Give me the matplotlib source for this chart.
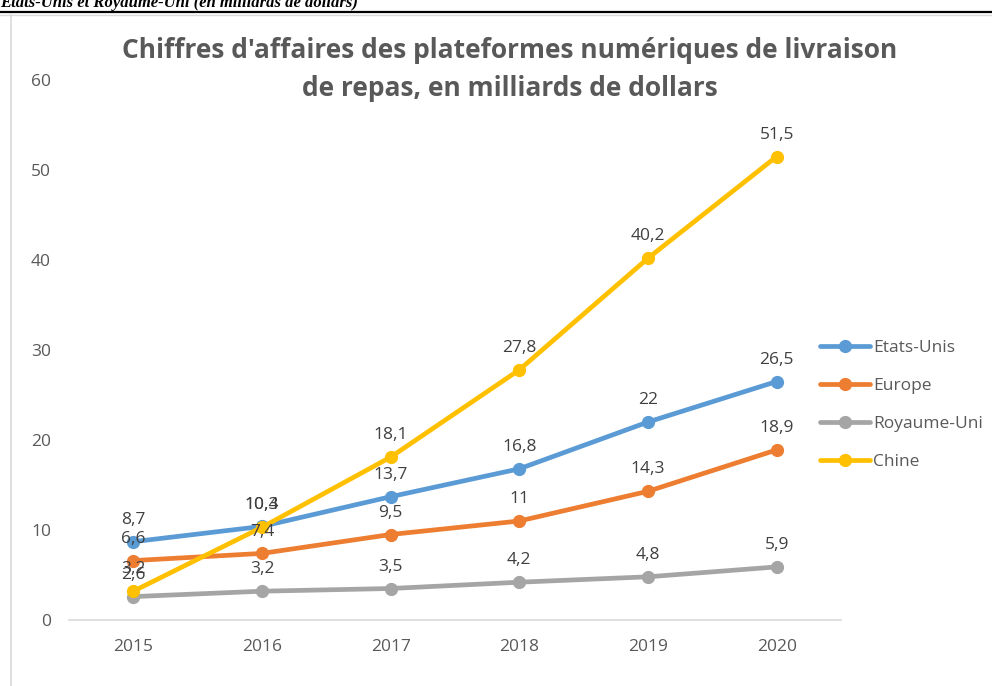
import numpy as np
import matplotlib
matplotlib.use("Agg")
import matplotlib.pyplot as plt
from matplotlib.lines import Line2D

years = ["2015", "2016", "2017", "2018", "2019", "2020"]
etats_unis = [8.7, 10.4, 13.7, 16.8, 22, 26.5]
europe = [6.6, 7.4, 9.5, 11, 14.3, 18.9]
royaume_uni = [2.6, 3.2, 3.5, 4.2, 4.8, 5.9]
chine = [3.2, 10.3, 18.1, 27.8, 40.2, 51.5]

series_names = ["Etats-Unis", "Europe", "Royaume-Uni", "Chine"]
colors = ["#5B9BD5", "#ED7D31", "#A5A5A5", "#FFC000"]

plt.rcParams['font.family'] = ['Open Sans', 'DejaVu Sans']
txt = "#595959"

fig = plt.figure(figsize=(9.92, 6.86), dpi=100)
fig.patch.set_facecolor("white")

# cropped caption at top of page
fig.text(0.0, 1 - 7 / 686, "Etats-Unis et Royaume-Uni (en milliards de dollars)",
         family="Liberation Serif", weight="bold", style="italic", fontsize=12,
         va="baseline", ha="left", color="black")
fig.add_artist(Line2D([0, 1], [1 - 12 / 686, 1 - 12 / 686], color="black", lw=1.6,
                      transform=fig.transFigure))
fig.add_artist(Line2D([0, 1], [1 - 14.5 / 686, 1 - 14.5 / 686], color="#d9d9d9", lw=1,
                      transform=fig.transFigure))
fig.add_artist(Line2D([10.5 / 992, 10.5 / 992], [0, 1 - 14 / 686], color="#d9d9d9", lw=1.2,
                      transform=fig.transFigure))

ax = fig.add_axes([69 / 992, 1 - 620 / 686, (841 - 69) / 992, (620 - 80) / 686])
x = np.arange(len(years))
data = [etats_unis, europe, royaume_uni, chine]
for name, vals, c in zip(series_names, data, colors):
    ax.plot(x, vals, color=c, lw=3.4, marker="o", ms=8.5, label=name,
            solid_capstyle="round")
for vals in data:
    for xi, v in zip(x, vals):
        lab = ("%g" % v).replace(".", ",")
        ax.annotate(lab, (xi, v), xytext=(0, 10), textcoords="offset points",
                    ha="center", va="bottom", fontsize=12.5, color="#404040")

ax.set_xlim(-0.5, 5.5)
ax.set_ylim(0, 60)
ax.set_xticks(x)
ax.set_xticklabels(years)
ax.set_yticks(range(0, 61, 10))
ax.tick_params(axis="both", length=0, labelsize=12.5, colors=txt)
ax.tick_params(axis="y", pad=13)
ax.tick_params(axis="x", pad=14)
for s in ["top", "right", "left"]:
    ax.spines[s].set_visible(False)
ax.spines["bottom"].set_color("#d9d9d9")
ax.spines["bottom"].set_linewidth(1.2)
ax.set_facecolor("none")

leg = ax.legend(loc="upper left", bbox_to_anchor=(820 / 992, 1 - 340 / 686),
                bbox_transform=fig.transFigure, frameon=False, fontsize=12.5,
                handlelength=2.9, handletextpad=0.15, labelspacing=1.25,
                borderaxespad=0, borderpad=0)
for t in leg.get_texts():
    t.set_color(txt)

# title, two centred lines
fig.text(510 / 992, 1 - 50 / 686, "Chiffres d'affaires des plateformes numériques de livraison",
         ha="center", va="center", fontsize=19, weight="bold", color=txt)
fig.text(510 / 992, 1 - 88 / 686, "de repas, en milliards de dollars",
         ha="center", va="center", fontsize=19, weight="bold", color=txt)

fig.savefig("out.png", dpi=100, facecolor="white")
